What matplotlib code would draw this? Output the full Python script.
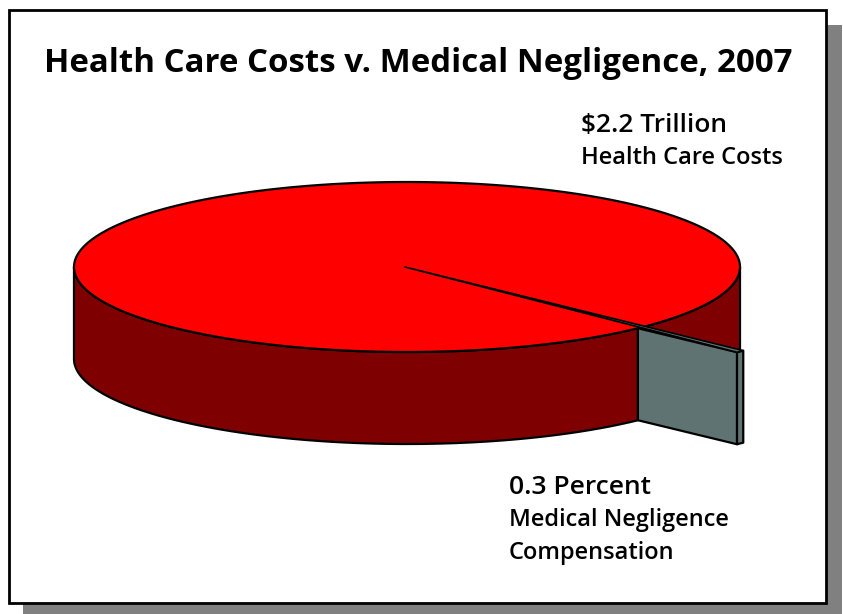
import numpy as np
import matplotlib
matplotlib.use('Agg')
import matplotlib.pyplot as plt
from matplotlib.patches import Polygon, Rectangle

# share of 2007 health care costs, percent
categories = ['Health Care Costs', 'Medical Negligence Compensation']
shares = [99.7, 0.3]

title = 'Health Care Costs v. Medical Negligence, 2007'
cost_head = '$2.2 Trillion'
comp_head = '0.3 Percent'

DARK_RED = '#7f0000'
RED = '#ff0000'
SLATE = '#5f7373'
FONT = 'Open Sans'

# pie geometry, in pixels
CX, CY = 407, 267
RX, RY = 333, 85
DEPTH = 92
EXPLODE = 1.41
MID_ANGLE = 44.8


def rim(t, r=1.0, dy=0.0):
    t = np.radians(t)
    return np.column_stack([CX + r * RX * np.cos(t), CY + r * RY * np.sin(t) + dy])


def add_poly(ax, pts, color, lw=1.6, z=3):
    ax.add_patch(Polygon(pts, closed=True, facecolor=color, edgecolor='black',
                         linewidth=lw, joinstyle='round', zorder=z))


def main():
    fig = plt.figure(figsize=(8.43, 6.14), dpi=100, facecolor='white')
    ax = fig.add_axes([0, 0, 1, 1])
    ax.set_xlim(0, 843)
    ax.set_ylim(614, 0)
    ax.axis('off')

    # slide frame with drop shadow
    ax.add_patch(Rectangle((23, 25), 819, 589, facecolor='#808080', edgecolor='none', zorder=1))
    ax.add_patch(Rectangle((8.5, 10), 817.5, 592.5, facecolor='white', edgecolor='black',
                           linewidth=2.0, zorder=2))

    sweep = 360 * shares[1] / 100
    t0 = MID_ANGLE - sweep / 2
    t1 = MID_ANGLE + sweep / 2

    # point where the cut leaves the main slice rim
    cut = 46.1
    cut_top = rim(cut)[0]
    near = rim(t1, EXPLODE)[0]
    far = rim(t0, EXPLODE)[0]

    # outer wall, front part
    angles = np.linspace(cut, 180, 160)
    front = np.vstack([rim(angles), rim(angles[::-1], dy=DEPTH)])
    add_poly(ax, front, DARK_RED, z=3)

    # outer wall seen behind the slice
    angles = np.linspace(0, cut, 60)
    slope = (far[1] - cut_top[1]) / (far[0] - cut_top[0])
    right_x = CX + RX
    corner = [[right_x, cut_top[1] + slope * (right_x - cut_top[0])]]
    add_poly(ax, np.vstack([corner, rim(angles)]), DARK_RED, z=3)

    # top of the large slice
    add_poly(ax, rim(np.linspace(0, 360, 400)), RED, z=4)

    # cut face and end of the small slice
    face = [cut_top, near, near + [0, DEPTH], cut_top + [0, DEPTH]]
    add_poly(ax, face, SLATE, z=5)
    end = [near, far, far + [0, DEPTH], near + [0, DEPTH]]
    add_poly(ax, end, SLATE, z=5)

    # top of the small slice
    add_poly(ax, [[CX - 2, CY], near, far], SLATE, lw=1.2, z=6)

    txt = dict(family=FONT, color='black', va='baseline', zorder=7)
    ax.text(44, 72, title, fontsize=23.8, weight='bold', **txt)
    ax.text(581, 132, cost_head, fontsize=19, weight='semibold', **txt)
    ax.text(581, 164, categories[0], fontsize=17, weight='semibold', **txt)
    ax.text(509, 494, comp_head, fontsize=19, weight='semibold', **txt)
    ax.text(509, 526, 'Medical Negligence', fontsize=17, weight='semibold', **txt)
    ax.text(509, 559, 'Compensation', fontsize=17, weight='semibold', **txt)

    fig.savefig('out.png', dpi=100, facecolor='white')


if __name__ == '__main__':
    main()
